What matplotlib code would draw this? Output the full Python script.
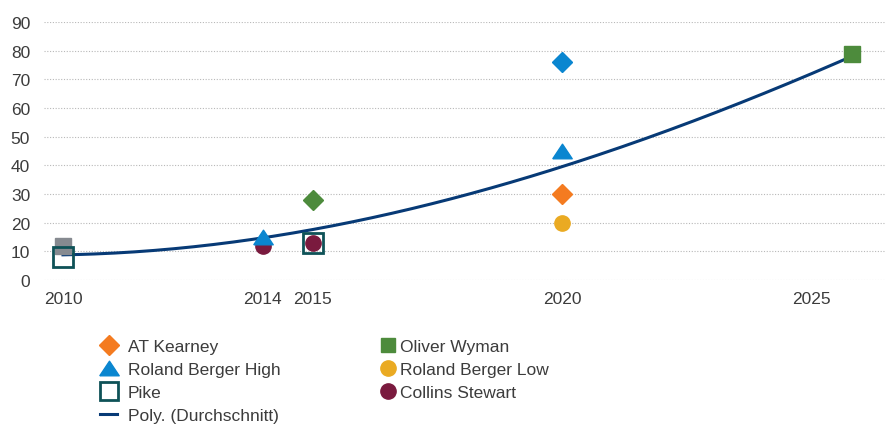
import numpy as np
import matplotlib
matplotlib.use("Agg")
import matplotlib.pyplot as plt
from matplotlib.lines import Line2D

plt.rcParams['font.family'] = ['Liberation Sans', 'DejaVu Sans']
text_col = '#3c3c3c'

# data
tick_years = [2010, 2014, 2015, 2020, 2025]
y_ticks = [0, 10, 20, 30, 40, 50, 60, 70, 80, 90]

at_kearney_x = [2020]
at_kearney_y = [30]
rb_high_x = [2014, 2020]
rb_high_y = [15, 45]
blue_dia_x = [2020]          # blue diamond, no legend entry
blue_dia_y = [76]
pike_x = [2010, 2015]
pike_y = [8, 13]
oliver_x = [2025.8]
oliver_y = [79]
green_dia_x = [2015]         # green diamond, no legend entry
green_dia_y = [28]
rb_low_x = [2020]
rb_low_y = [20]
collins_x = [2014, 2015]
collins_y = [12, 13]
grey_x = [2010]              # grey square, no legend entry
grey_y = [12]

# points along the polynomial trend (Durchschnitt)
trend_x = [2010, 2014, 2015, 2020, 2025.8]
trend_y = [8.8, 14.5, 17.8, 39.5, 78]

# flat triangle like the excel marker
tri = [(-1, -0.75), (1, -0.75), (0, 0.75), (-1, -0.75)]

fig = plt.figure(figsize=(8.86, 4.27), dpi=100)
ax = fig.add_axes([44/886, 146/427, 842/886, 258/427])

coef = np.polyfit(np.array(trend_x) - 2010, trend_y, 3)
xs = np.linspace(2010, 2025.8, 200)
ax.plot(xs, np.polyval(coef, xs - 2010), color='#073a76', lw=2.2, zorder=2)

ax.plot(grey_x, grey_y, 's', ms=11, color='#868a90', zorder=3, clip_on=False)
ax.plot(collins_x, collins_y, 'o', ms=11, color='#7a1a3e', zorder=3)
ax.plot(rb_high_x, rb_high_y, marker=tri, ls='none', ms=14, color='#0a86d0', zorder=4)
ax.plot(blue_dia_x, blue_dia_y, 'D', ms=10, color='#0a86d0', zorder=4)
ax.plot(at_kearney_x, at_kearney_y, 'D', ms=10, color='#f47b20', zorder=4)
ax.plot(rb_low_x, rb_low_y, 'o', ms=11, color='#eaaa22', zorder=4)
ax.plot(green_dia_x, green_dia_y, 'D', ms=10, color='#4d8b3c', zorder=4)
ax.plot(oliver_x, oliver_y, 's', ms=11, color='#4d8b3c', zorder=4, clip_on=False)
ax.plot(pike_x, pike_y, 's', ms=15, mfc='none', mec='#0e5257', mew=2, zorder=5, clip_on=False)

ax.set_xlim(2009.62, 2026.49)
ax.set_ylim(0, 90)
ax.set_xticks(tick_years)
ax.set_xticklabels([str(y) for y in tick_years])
ax.set_yticks(y_ticks)
ax.tick_params(axis='both', length=0, labelsize=12.5, colors=text_col)
ax.tick_params(axis='y', pad=10)
ax.tick_params(axis='x', pad=8)
ax.grid(axis='y', color='#b8b8b8', linestyle=(0, (1, 1.5)), linewidth=0.8)
ax.set_axisbelow(True)
for s in ax.spines.values():
    s.set_visible(False)

leg1 = [
    Line2D([], [], marker='D', ls='none', ms=10, color='#f47b20', label='AT Kearney'),
    Line2D([], [], marker=tri, ls='none', ms=14, color='#0a86d0', label='Roland Berger High'),
    Line2D([], [], marker='s', ls='none', ms=13, mfc='none', mec='#0e5257', mew=2, label='Pike'),
    Line2D([], [], color='#073a76', lw=2.2, label='Poly. (Durchschnitt)'),
]
leg2 = [
    Line2D([], [], marker='s', ls='none', ms=10, color='#4d8b3c', label='Oliver Wyman'),
    Line2D([], [], marker='o', ls='none', ms=11, color='#eaaa22', label='Roland Berger Low'),
    Line2D([], [], marker='o', ls='none', ms=11, color='#7a1a3e', label='Collins Stewart'),
]
kw = dict(loc='upper left', frameon=False, fontsize=12.5, labelcolor=text_col,
          handlelength=1.0, labelspacing=0.45, borderpad=0, borderaxespad=0)
fig.legend(handles=leg1, bbox_to_anchor=(100/886, 1 - 340/427), handletextpad=0.6, **kw)
fig.legend(handles=leg2, bbox_to_anchor=(379/886, 1 - 340/427), handletextpad=0.2, **kw)

fig.savefig('out.png', dpi=100)
